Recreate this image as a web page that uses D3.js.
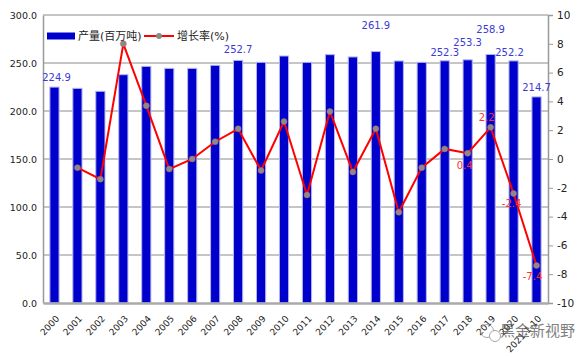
<!DOCTYPE html>
<html><head><meta charset="utf-8">
<script src="https://cdn.jsdelivr.net/npm/d3@7/dist/d3.min.js"></script>
<style>
body{margin:0;background:#fff}
svg{display:block}
text{font-family:"DejaVu Sans","Noto Sans CJK SC",sans-serif}
</style></head><body>
<script>
const categories=["2000","2001","2002","2003","2004","2005","2006","2007","2008","2009","2010","2011","2012","2013","2014","2015","2016","2017","2018","2019","2020","2021.1-10"];
const output=[224.9,223.6,220.5,237.8,246.5,244.4,244.4,247.6,252.7,250.7,257.3,250.7,258.7,256.3,261.9,252.1,250.7,252.3,253.3,258.9,252.2,214.7];
const growth=[null,-0.6,-1.4,8.0,3.7,-0.7,0.0,1.2,2.1,-0.8,2.6,-2.5,3.3,-0.9,2.1,-3.7,-0.6,0.7,0.4,2.2,-2.4,-7.4];
const leftTicks=[0,50,100,150,200,250,300];
const rightTicks=[-10,-8,-6,-4,-2,0,2,4,6,8,10];
const seriesNames=["产量(百万吨)","增长率(%)"];
const outputLabelYears=["2000","2008","2014","2017","2018","2019","2020","2021.1-10"];
const growthLabelYears=["2018","2019","2020","2021.1-10"];

const W=588,H=357,m={l:43,r:40,t:15,b:54};
const f1=d=>d.toFixed(1);
const svg=d3.select("body").append("svg").attr("width",W).attr("height",H);
const x=d3.scaleBand().domain(categories).range([m.l,W-m.r]).paddingInner(0.6).paddingOuter(0.3);
const yL=d3.scaleLinear().domain([0,300]).range([H-m.b,m.t]);
const yR=d3.scaleLinear().domain([-10,10]).range([H-m.b,m.t]);

// gridlines
svg.append("g").selectAll("line").data(leftTicks.slice(1)).join("line")
 .attr("x1",m.l).attr("x2",W-m.r).attr("y1",d=>yL(d)).attr("y2",d=>yL(d))
 .attr("stroke","#8c8c8c").attr("stroke-width",1);

// bars
svg.append("g").selectAll("rect").data(output).join("rect")
 .attr("x",(d,i)=>x(categories[i])).attr("width",x.bandwidth())
 .attr("y",d=>yL(d)).attr("height",d=>yL(0)-yL(d))
 .attr("fill","#0000cc").attr("stroke","#b4b4ee").attr("stroke-width",1);

// left axis
const gl=svg.append("g").attr("transform",`translate(${m.l},0)`)
 .call(d3.axisLeft(yL).tickValues(leftTicks).tickFormat(f1).tickSize(0).tickPadding(6));
gl.select(".domain").attr("stroke","#999").attr("stroke-width",1.5);
gl.selectAll("text").attr("font-size","9.5px").attr("fill","#222");

// right axis
const gr=svg.append("g").attr("transform",`translate(${W-m.r},0)`)
 .call(d3.axisRight(yR).tickValues(rightTicks).tickFormat(d=>String(d)).tickSize(5).tickPadding(4));
gr.select(".domain").attr("stroke","#999").attr("stroke-width",1.5);
gr.selectAll("line").attr("stroke","#999");
gr.selectAll("text").attr("font-size","10.5px").attr("fill","#222");

// bottom axis
const gb=svg.append("g").attr("transform",`translate(0,${H-m.b})`)
 .call(d3.axisBottom(x).tickSize(0));
gb.select(".domain").attr("stroke","#aaa").attr("stroke-width",2.5);
gb.selectAll("text").attr("font-size","9px").attr("fill","#222")
 .attr("text-anchor","end").attr("x",0).attr("y",0).attr("dy","0.35em")
 .attr("transform","translate(3,14) rotate(-47)");

// growth line
const pts=growth.map((g,i)=>({c:categories[i],g})).filter(d=>d.g!==null);
const cx=c=>x(c)+x.bandwidth()/2;
svg.append("path").datum(pts)
 .attr("d",d3.line().x(d=>cx(d.c)).y(d=>yR(d.g)))
 .attr("fill","none").attr("stroke","#ff0000").attr("stroke-width",2);
svg.append("g").selectAll("circle").data(pts).join("circle")
 .attr("cx",d=>cx(d.c)).attr("cy",d=>yR(d.g)).attr("r",3)
 .attr("fill","#8a8a8a").attr("stroke","#c06060").attr("stroke-width",0.5);

// output labels
const outDy={"2000":-10,"2008":-11,"2014":-26,"2017":-8.5,"2018":-17.5,"2019":-25,"2020":-8.5,"2021.1-10":-9.5};
const outDx={"2020":-4,"2000":2};
svg.append("g").selectAll("text").data(outputLabelYears).join("text")
 .attr("x",c=>cx(c)+(outDx[c]||0))
 .attr("y",c=>yL(output[categories.indexOf(c)])+outDy[c])
 .attr("dy","0.35em").attr("text-anchor","middle")
 .attr("font-size","10px").attr("fill","#3b3bd8")
 .text(c=>f1(output[categories.indexOf(c)]));

// growth labels
const grDy={"2018":12.5,"2019":-9.5,"2020":9.7,"2021.1-10":11};
const grDx={"2018":-3,"2019":-4,"2020":-2,"2021.1-10":-4};
svg.append("g").selectAll("text").data(growthLabelYears).join("text")
 .attr("x",c=>cx(c)+grDx[c])
 .attr("y",c=>yR(growth[categories.indexOf(c)])+grDy[c])
 .attr("dy","0.35em").attr("text-anchor","middle")
 .attr("font-size","10px").attr("fill","#ff3030")
 .text(c=>f1(growth[categories.indexOf(c)]));

// legend
const lg=svg.append("g");
lg.append("rect").attr("x",47).attr("y",32.5).attr("width",28).attr("height",7).attr("fill","#0000cc");
lg.append("text").attr("x",78).attr("y",36).attr("dy","0.35em").attr("font-size","11px").attr("fill","#222").text(seriesNames[0]);
lg.append("line").attr("x1",144).attr("x2",174).attr("y1",36).attr("y2",36).attr("stroke","#ff0000").attr("stroke-width",2);
lg.append("circle").attr("cx",159).attr("cy",36).attr("r",3).attr("fill","#8a8a8a");
lg.append("text").attr("x",177).attr("y",36).attr("dy","0.35em").attr("font-size","11px").attr("fill","#222").text(seriesNames[1]);

// watermark
const wm=svg.append("g").attr("opacity",0.75);
wm.append("circle").attr("cx",487).attr("cy",331).attr("r",6.5).attr("fill","none").attr("stroke","#888").attr("stroke-width",1);
wm.append("circle").attr("cx",495).attr("cy",336).attr("r",5.5).attr("fill","#fff").attr("stroke","#888").attr("stroke-width",1);
wm.append("text").attr("x",500).attr("y",331).attr("dy","0.35em").attr("font-size","15px").attr("fill","#555").text("黑金新视野");
</script>
</body></html>
